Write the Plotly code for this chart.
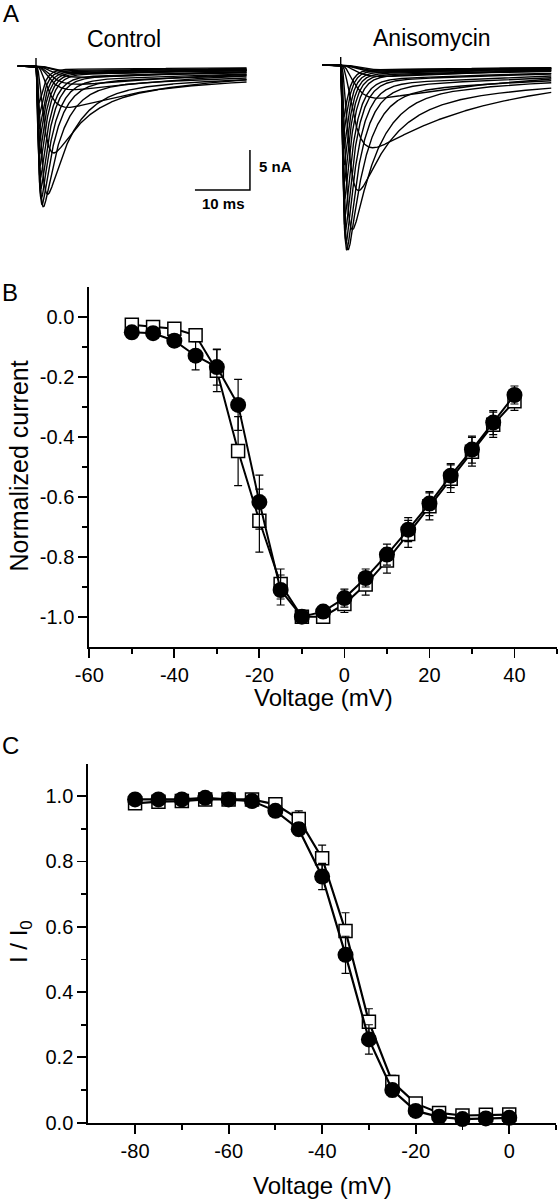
import numpy as np
import plotly.graph_objects as go

W, H = 559, 1199
FONT = "Liberation Sans, Arial, Helvetica, sans-serif"

# ---------------- Panel B: normalized I-V ----------------
iv_voltage = [-50, -45, -40, -35, -30, -25, -20, -15, -10, -5, 0, 5, 10, 15, 20, 25, 30, 35, 40]
iv_control = [-0.052, -0.055, -0.080, -0.130, -0.168, -0.294, -0.618, -0.911, -1.000, -0.983,
              -0.938, -0.871, -0.793, -0.710, -0.623, -0.530, -0.443, -0.353, -0.261]
iv_control_err = [0.015, 0.015, 0.02, 0.047, 0.06, 0.085, 0.09, 0.05, 0.01, 0.02,
                  0.03, 0.03, 0.035, 0.04, 0.04, 0.04, 0.045, 0.04, 0.03]
iv_aniso = [-0.027, -0.034, -0.040, -0.062, -0.180, -0.448, -0.680, -0.891, -1.000, -1.000,
            -0.958, -0.893, -0.813, -0.724, -0.632, -0.540, -0.450, -0.360, -0.282]
iv_aniso_err = [0.015, 0.015, 0.02, 0.02, 0.07, 0.115, 0.105, 0.05, 0.005, 0.01,
                0.028, 0.035, 0.042, 0.045, 0.045, 0.046, 0.048, 0.042, 0.03]

# ---------------- Panel C: steady-state inactivation ----------------
inact_voltage = [-80, -75, -70, -65, -60, -55, -50, -45, -40, -35, -30, -25, -20, -15, -10, -5, 0]
inact_control = [0.990, 0.990, 0.990, 0.995, 0.990, 0.985, 0.955, 0.899, 0.754, 0.514, 0.255,
                 0.100, 0.036, 0.018, 0.011, 0.013, 0.015]
inact_control_err = [0.01, 0.01, 0.01, 0.01, 0.01, 0.01, 0.012, 0.02, 0.04, 0.057, 0.045,
                     0.02, 0.015, 0.01, 0.01, 0.01, 0.01]
inact_aniso = [0.978, 0.983, 0.985, 0.990, 0.990, 0.990, 0.975, 0.930, 0.810, 0.587, 0.309,
               0.125, 0.059, 0.030, 0.022, 0.024, 0.025]
inact_aniso_err = [0.01, 0.01, 0.01, 0.01, 0.01, 0.01, 0.012, 0.025, 0.04, 0.056, 0.04,
                   0.02, 0.015, 0.012, 0.012, 0.012, 0.012]

# ---------------- Panel A: current traces (one sweep per I-V step) ----------------
control_peak_nA = 17.6
aniso_peak_nA = 23.1
act_tau_ms = [2.5, 2.3, 2.1, 1.9, 1.7, 1.5, 1.0, 0.65, 0.40, 0.33, 0.30, 0.27, 0.25, 0.23,
              0.22, 0.21, 0.20, 0.19, 0.18]
inact_tau_ms = [30, 28, 26, 24, 22, 18, 6.0, 4.5, 3.2, 2.6, 2.2, 1.9, 1.7, 1.5, 1.35, 1.25,
                1.15, 1.05, 1.0]
slow_fraction = [0.6, 0.55, 0.5, 0.45, 0.4, 0.3, 0.2, 0.12, 0.10, 0.08, 0.07, 0.06, 0.06,
                 0.05, 0.05, 0.05, 0.05, 0.05, 0.05]
slow_tau_ms = 60.0
sweep_start_ms, sweep_end_ms = -3.3, 38.3
scale_bar_ms, scale_bar_nA = 10, 5


def px_x(x):
    return x / W


def px_y(y):
    return 1 - y / H


def family(norm_peaks, imax):
    t = np.arange(0, sweep_end_ms, 0.04)
    xs, ys = [], []
    for k, pk in enumerate(norm_peaks):
        tm, th, fs = act_tau_ms[k], inact_tau_ms[k], slow_fraction[k]
        m = 1 - np.exp(-t / tm)
        h = (1 - fs) * np.exp(-t / th) + fs * np.exp(-t / slow_tau_ms)
        raw = m ** 3 * h
        cur = -abs(pk) * imax * raw / raw.max()
        xs += [sweep_start_ms] + list(t) + [None]
        ys += [0.0] + list(cur) + [None]
    # stimulus artifact
    xs += [0, 0, None]
    ys += [0, 1.0, None]
    return xs, ys


fig = go.Figure()

# Panel A traces
cx, cy = family(iv_control, control_peak_nA)
fig.add_trace(go.Scatter(x=cx, y=cy, mode="lines", line=dict(color="black", width=1.4),
                         xaxis="x3", yaxis="y3", hoverinfo="skip", connectgaps=False))
ax_, ay_ = family(iv_aniso, aniso_peak_nA)
fig.add_trace(go.Scatter(x=ax_, y=ay_, mode="lines", line=dict(color="black", width=1.4),
                         xaxis="x4", yaxis="y4", hoverinfo="skip", connectgaps=False))
# scale bar (in control axes)
bar_x1, bar_y0 = 38.9, -15.5
fig.add_trace(go.Scatter(x=[bar_x1 - scale_bar_ms, bar_x1, bar_x1],
                         y=[bar_y0, bar_y0, bar_y0 + scale_bar_nA],
                         mode="lines", line=dict(color="black", width=1.5),
                         xaxis="x3", yaxis="y3", hoverinfo="skip"))

# Panel B
fig.add_trace(go.Scatter(x=iv_voltage, y=iv_aniso, mode="lines+markers",
                         line=dict(color="black", width=2),
                         marker=dict(symbol="square", size=13, color="white",
                                     line=dict(color="black", width=1.5)),
                         error_y=dict(type="data", array=iv_aniso_err, color="black",
                                      thickness=1.2, width=4),
                         xaxis="x", yaxis="y", cliponaxis=False))
fig.add_trace(go.Scatter(x=iv_voltage, y=iv_control, mode="lines+markers",
                         line=dict(color="black", width=2),
                         marker=dict(symbol="circle", size=16, color="black"),
                         error_y=dict(type="data", array=iv_control_err, color="black",
                                      thickness=1.2, width=4),
                         xaxis="x", yaxis="y", cliponaxis=False))

# Panel C
fig.add_trace(go.Scatter(x=inact_voltage, y=inact_aniso, mode="lines+markers",
                         line=dict(color="black", width=2.2),
                         marker=dict(symbol="square", size=13, color="white",
                                     line=dict(color="black", width=1.5)),
                         error_y=dict(type="data", array=inact_aniso_err, color="black",
                                      thickness=1.2, width=4),
                         xaxis="x2", yaxis="y2", cliponaxis=False))
fig.add_trace(go.Scatter(x=inact_voltage, y=inact_control, mode="lines+markers",
                         line=dict(color="black", width=2.2),
                         marker=dict(symbol="circle", size=16, color="black"),
                         error_y=dict(type="data", array=inact_control_err, color="black",
                                      thickness=1.2, width=4),
                         xaxis="x2", yaxis="y2", cliponaxis=False))


def axis(major, minor, fmt, rng, domain, anchor):
    return dict(
        range=rng, domain=domain, anchor=anchor, automargin=False,
        showline=True, linecolor="black", linewidth=2,
        ticks="outside", ticklen=9, tickwidth=1.8, tickcolor="black",
        tickmode="array", tickvals=major, ticktext=[fmt(v) for v in major],
        tickfont=dict(family=FONT, size=20, color="black"),
        minor=dict(ticks="outside", ticklen=5, tickwidth=1.8, tickcolor="black",
                   tickmode="array", tickvals=minor, showgrid=False),
        showgrid=False, zeroline=False, fixedrange=True,
    )


B_x_major = [-60, -40, -20, 0, 20, 40]
B_x_minor = [-50, -30, -10, 10, 30, 50]
B_y_major = [0.0, -0.2, -0.4, -0.6, -0.8, -1.0]
B_y_minor = [-0.1, -0.3, -0.5, -0.7, -0.9]
C_x_major = [-80, -60, -40, -20, 0]
C_x_minor = [-70, -50, -30, -10, 10]
C_y_major = [0.0, 0.2, 0.4, 0.6, 0.8, 1.0]
C_y_minor = [0.1, 0.3, 0.5, 0.7, 0.9]

intfmt = lambda v: f"{v:d}"
flt = lambda v: f"{v:.1f}"

B_dom_x = [px_x(89.3), px_x(557)]
B_dom_y = [px_y(646.7), px_y(286.7)]
C_dom_x = [px_x(88.3), px_x(556)]
C_dom_y = [px_y(1122.7), px_y(763.5)]
A_dom_y = [px_y(260), 1.0]

hidden = dict(visible=False, showgrid=False, zeroline=False, fixedrange=True,
              automargin=False)

fig.update_layout(
    width=W, height=H, autosize=False,
    margin=dict(l=0, r=0, t=0, b=0, pad=0, autoexpand=False),
    paper_bgcolor="white", plot_bgcolor="white", showlegend=False,
    font=dict(family=FONT, color="black"),
    xaxis=axis(B_x_major, B_x_minor, intfmt, [-60, 50], B_dom_x, "y"),
    yaxis=axis(B_y_major, B_y_minor, flt, [-1.1, 0.1], B_dom_y, "x"),
    xaxis2=axis(C_x_major, C_x_minor, intfmt, [-90, 10], C_dom_x, "y2"),
    yaxis2=axis(C_y_major, C_y_minor, flt, [0, 1.1], C_dom_y, "x2"),
    xaxis3=dict(hidden, domain=[0, 0.5], range=[-36 / 5.5, (279.5 - 36) / 5.5], anchor="y3"),
    yaxis3=dict(hidden, domain=A_dom_y, range=[-(260 - 66) / 8, 66 / 8], anchor="x3"),
    xaxis4=dict(hidden, domain=[0.5, 1], range=[-(340.7 - 279.5) / 5.5, (559 - 340.7) / 5.5],
                anchor="y4"),
    yaxis4=dict(hidden, domain=A_dom_y, range=[-(260 - 65) / 8, 65 / 8], anchor="x4"),
)

ann = []


def label(text, x, y, size, **kw):
    d = dict(text=text, x=px_x(x), y=px_y(y), xref="paper", yref="paper",
             showarrow=False, font=dict(family=FONT, size=size, color="black"),
             xanchor="center", yanchor="middle")
    d.update(kw)
    ann.append(d)


label("A", 11, 13, 24)
label("B", 10, 293, 24)
label("C", 10, 745, 24)
label("Control", 124, 38.5, 23)
label("Anisomycin", 432, 38, 23)
label("<b>5 nA</b>", 257, 166, 15, xanchor="left")
label("<b>10 ms</b>", 223, 203, 15)
label("Voltage (mV)", 323, 697, 24)
label("Voltage (mV)", 322, 1185, 24)
label("Normalized current", 18, 466.5, 25, textangle=-90)
label("I / I<sub>0</sub>", 20, 942, 24, textangle=-90)

fig.update_layout(annotations=ann)
fig.write_html(
    "out.html",
    config={"displayModeBar": False, "staticPlot": True},
    post_script="document.body.style.margin='0';document.body.style.padding='0';"
                "document.body.style.overflow='hidden';"
                "document.documentElement.style.overflow='hidden';",
)
